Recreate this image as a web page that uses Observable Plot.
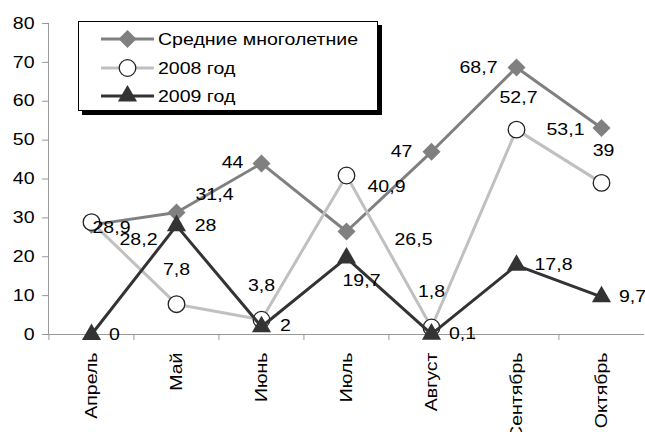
<!DOCTYPE html>
<html>
<head>
<meta charset="utf-8">
<script src="https://cdn.jsdelivr.net/npm/d3@7"></script>
<script src="https://cdn.jsdelivr.net/npm/@observablehq/plot@0.6"></script>
<style>
  body { margin: 0; background: #fff; }
  #wrap { position: relative; width: 645px; height: 432px; overflow: hidden;
          font-family: "Liberation Sans", Arial, sans-serif; }
  #legend { position: absolute; left: 78px; top: 21px; width: 298px; height: 88px;
            border: 1px solid #000; background: #fff; box-shadow: 4px 4px 0 #000; }
</style>
</head>
<body>
<div id="wrap"><div id="legend"></div></div>
<script>
// Months on the category axis
const months = ["Апрель", "Май", "Июнь", "Июль", "Август", "Сентябрь", "Октябрь"];

// Series names and values
const seriesNames = ["Средние многолетние", "2008 год", "2009 год"];
const avgValues = [28.2, 31.4, 44, 26.5, 47, 68.7, 53.1];
const values2008 = [28.9, 7.8, 3.8, 40.9, 1.8, 52.7, 39];
const values2009 = [0, 28, 2, 19.7, 0.1, 17.8, 9.7];

// Value axis ticks
const yTicks = [0, 10, 20, 30, 40, 50, 60, 70, 80];

// Where each data label sits relative to its point, [dx, dy] in pixels
const avgLabelShift = [[47, 15], [38, -18], [-29, -1], [67, 8], [-30, 0], [-38, 0], [-36, 2]];
const labelShift2008 = [[20, 6], [0, -34], [0, -34], [40, 11], [0, -36], [2, -32], [2, -32]];
const labelShift2009 = [[23, 0], [29, 0], [24, -1], [15, 23], [31, 0], [37, 0], [31, 0]];

// Horizontal stretch of all lettering
const STRETCH = 1.22;
const FONT = 16;

const series = [
  {name: seriesNames[0], values: avgValues, shift: avgLabelShift,
   line: "#808080", symbol: "diamond2", r: 8.1, fill: "#808080", mstroke: "none", mwidth: 0},
  {name: seriesNames[1], values: values2008, shift: labelShift2008,
   line: "#c0c0c0", symbol: "circle", r: 8.3, fill: "#fff", mstroke: "#222", mwidth: 1.3},
  {name: seriesNames[2], values: values2009, shift: labelShift2009,
   line: "#333333", symbol: "triangle", r: 7.1, fill: "#333333", mstroke: "none", mwidth: 0}
];

const fmt = v => String(v).replace(".", ",");

const W = 645, H = 432;
const marginLeft = 48, marginRight = 1, marginTop = 23, marginBottom = 98;
const step = (W - marginLeft - marginRight) / months.length;

const marks = [
  Plot.ruleY([0], {stroke: "#999", strokeWidth: 1}),
  Plot.frame({anchor: "left", stroke: "#999"}),
  Plot.axisY({ticks: yTicks, tickSize: 6, tickPadding: 8, stroke: "#999", fill: "#000", fontSize: FONT, label: null}),
  Plot.axisX({tickSize: 6, tickFormat: () => "", dx: -step / 2, stroke: "#999", label: null}),
  Plot.axisX({tickSize: 0, tickPadding: 18, rotate: -90, textAnchor: "end", lineAnchor: "middle",
    fontSize: FONT, fill: "#000", label: null})
];

for (const s of series) {
  const rows = months.map((m, i) => ({month: m, value: s.values[i]}));
  marks.push(Plot.line(rows, {x: "month", y: "value", stroke: s.line, strokeWidth: 3}));
  marks.push(Plot.dot(rows, {x: "month", y: "value", symbol: s.symbol, r: s.r,
    fill: s.fill, stroke: s.mstroke, strokeWidth: s.mwidth}));
}
for (const s of series) {
  months.forEach((m, i) => {
    marks.push(Plot.text([{month: m, value: s.values[i]}], {
      x: "month", y: "value", text: d => fmt(d.value),
      dx: s.shift[i][0], dy: s.shift[i][1], fontSize: FONT, fill: "#000"
    }));
  });
}

const chart = Plot.plot({
  width: W, height: H,
  marginLeft, marginRight, marginTop, marginBottom,
  style: {fontFamily: '"Liberation Sans", Arial, sans-serif', fontSize: FONT + "px", background: "transparent", overflow: "visible"},
  x: {type: "point", domain: months, padding: 0.5},
  y: {domain: [0, 80]},
  marks
});

const wrap = document.getElementById("wrap");
wrap.insertBefore(chart, wrap.firstChild);

// Legend
const lg = d3.select("#legend").append("svg").attr("width", 298).attr("height", 88)
  .style("display", "block");
const rowsY = [17, 46, 74];
series.forEach((s, i) => {
  const g = lg.append("g").attr("transform", `translate(0,${rowsY[i]})`);
  g.append("line").attr("x1", 22).attr("x2", 75).attr("stroke", s.line).attr("stroke-width", 3);
  const type = s.symbol === "diamond2" ? d3.symbolDiamond2 : s.symbol === "circle" ? d3.symbolCircle : d3.symbolTriangle;
  g.append("path").attr("transform", "translate(48.5,0)")
    .attr("d", d3.symbol(type, Math.PI * s.r * s.r)())
    .attr("fill", s.fill).attr("stroke", s.mstroke).attr("stroke-width", s.mwidth);
  g.append("text").attr("x", 79).attr("dy", "0.35em").attr("font-size", FONT)
    .attr("font-family", '"Liberation Sans", Arial, sans-serif').text(s.name);
});

// Widen all lettering, keeping each label's anchor where it was
for (const t of document.querySelectorAll("#wrap text")) {
  if (!t.textContent) continue;
  const len = t.getComputedTextLength();
  const anchor = getComputedStyle(t).textAnchor;
  const wide = len * STRETCH;
  const x0 = +(t.getAttribute("x") || 0);
  const shift = anchor === "end" ? wide : anchor === "middle" ? wide / 2 : 0;
  t.setAttribute("text-anchor", "start");
  t.setAttribute("x", x0 - shift);
  t.setAttribute("textLength", wide);
  t.setAttribute("lengthAdjust", "spacingAndGlyphs");
}
</script>
</body>
</html>
